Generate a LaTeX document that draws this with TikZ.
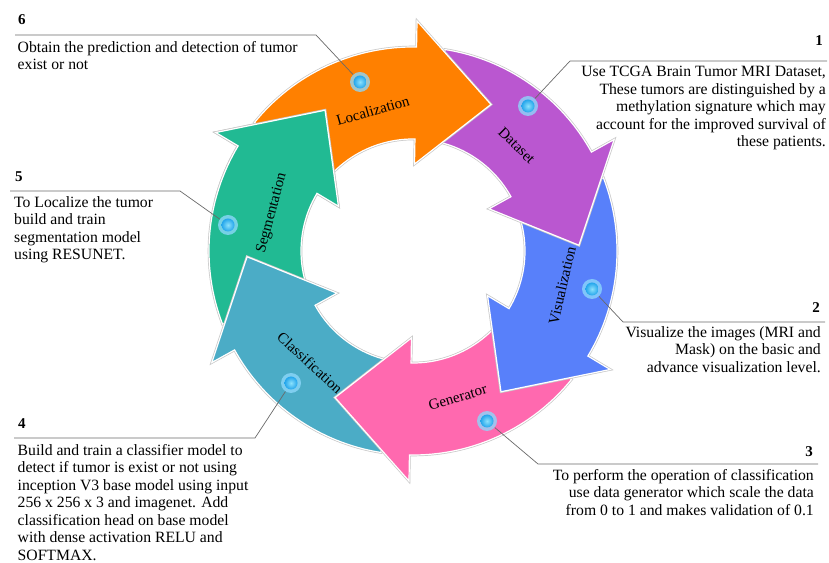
\documentclass[tikz,border=0pt]{standalone}
\usepackage{fontspec}
\setmainfont{Liberation Serif}
\definecolor{cOrange}{RGB}{255,128,0}
\definecolor{cPurple}{RGB}{186,87,208}
\definecolor{cBlue}{RGB}{88,128,250}
\definecolor{cPink}{RGB}{255,105,175}
\definecolor{cTeal}{RGB}{75,172,198}
\definecolor{cGreen}{RGB}{33,186,147}
\definecolor{haloBlue}{RGB}{140,215,250}
\definecolor{dotIn}{RGB}{140,225,252}
\definecolor{dotOut}{RGB}{35,165,235}
\definecolor{leader}{RGB}{105,105,105}

% one curved step arrow of the cycle; #1 = angle of the head base, #2 = colour
\newcommand\cyclearrow[2]{%
  \path[arrowrim] (#1+52:204) arc[start angle=#1+52, end angle=#1, radius=204]
    -- (#1:230) -- (#1-27:166) -- (#1:87) -- (#1:112)
    arc[start angle=#1, end angle=#1+52, radius=112] -- cycle;
  \path[arrowbody=#2] (#1+52:204) arc[start angle=#1+52, end angle=#1, radius=204]
    -- (#1:230) -- (#1-27:166) -- (#1:87) -- (#1:112)
    arc[start angle=#1, end angle=#1+52, radius=112] -- cycle;
}

\begin{document}
\begin{tikzpicture}[x=1pt,y=1pt,
  arrowrim/.style={draw=black!22, line width=2.6pt, line join=miter},
  arrowbody/.style={fill=#1, draw=white, line width=1.2pt, line join=miter},
  steplabel/.style={font=\fontsize{15}{17}\selectfont, inner sep=0pt},
  desc/.style={font=\fontsize{15.7}{17.5}\selectfont, inner sep=0pt},
  num/.style={font=\fontsize{15}{17}\selectfont\bfseries, inner sep=0pt},
  halo/.style={circle, minimum size=20pt, inner sep=0pt, fill=haloBlue, fill opacity=0.8},
  leaderline/.style={draw=leader, line width=0.7pt},
]
\useasboundingbox (0,0) rectangle (829,562);

% ring of six arrows, drawn so each head lies over the next tail
\begin{scope}[shift={(413,311)}]
  \cyclearrow{149}{cGreen}
  \cyclearrow{-151}{cTeal}
  \cyclearrow{-91}{cPink}
  \cyclearrow{-31}{cBlue}
  \cyclearrow{29}{cPurple}
  \cyclearrow{89}{cOrange}
  % green head goes back on top of the orange tail
  \begin{scope}
    \clip (0,0) -- (108:270) arc[start angle=108, end angle=166, radius=270] -- cycle;
    \cyclearrow{149}{cGreen}
  \end{scope}

  \node[steplabel, rotate=16]    (lLoc)  at (106:146)    {Localization};
  \node[steplabel, rotate=-44.5] (lData) at (45.5:148)   {Dataset};
  \node[steplabel, rotate=77]    (lVis)  at (-13:153)    {Visualization};
  \node[steplabel, rotate=17]    (lGen)  at (-73:153)    {Generator};
  \node[steplabel, rotate=-42.6] (lCls)  at (-132.6:152) {Classification};
  \node[steplabel, rotate=75]    (lSeg)  at (165:146)    {Segmentation};
\end{scope}

% marker positions
\node[halo] (d6) at (360,480) {};
\node[halo] (d1) at (528,456) {};
\node[halo] (d2) at (592,273) {};
\node[halo] (d3) at (487,141) {};
\node[halo] (d4) at (291,179) {};
\node[halo] (d5) at (228,337) {};

% leader lines
\coordinate (k6) at (316,527); \coordinate (e6) at (15,527);
\coordinate (k5) at (180,371); \coordinate (e5) at (10,371);
\coordinate (k4) at (255,124); \coordinate (e4) at (14,124);
\coordinate (k1) at (570,501); \coordinate (e1) at (827,501);
\coordinate (k2) at (623,240); \coordinate (e2) at (825,240);
\coordinate (k3) at (538,98);  \coordinate (e3) at (818,98);
\foreach \i in {1,...,6}{
  \path[leaderline] (d\i) -- (k\i) -- (e\i);
}

% marker cores
\foreach \i in {1,...,6}{
  \shade[inner color=dotIn, outer color=dotOut] (d\i.center) circle (6.5);
}

% numbers
\node[num, anchor=base west] (n6) at (18,537) {6};
\node[num, anchor=base west] (n5) at (15,380) {5};
\node[num, anchor=base west] (n4) at (18,133) {4};
\node[num, anchor=base east] (n1) at (823,516) {1};
\node[num, anchor=base east] (n2) at (820,249) {2};
\node[num, anchor=base east] (n3) at (813,105) {3};

% descriptions
\node[desc, anchor=north west, align=left] (t6) at (17.5,521)
  {Obtain the prediction and detection of tumor\\exist or not};
\node[desc, anchor=north west, align=left] (t5) at (14,366)
  {To Localize the tumor\\build and train\\segmentation model\\using RESUNET.};
\node[desc, anchor=north west, align=left] (t4) at (17.5,118)
  {Build and train a classifier model to\\detect if tumor is exist or not using\\inception V3 base model using input\\256 x 256 x 3 and imagenet. Add\\classification head on base model\\with dense activation RELU and\\SOFTMAX.};
\node[desc, anchor=north east, align=right] (t1) at (826,496)
  {Use TCGA Brain Tumor MRI Dataset,\\These tumors are distinguished by a\\methylation signature which may\\account for the improved survival of\\these patients.};
\node[desc, anchor=north east, align=right] (t2) at (821,236)
  {Visualize the images (MRI and\\Mask) on the basic and\\advance visualization level.};
\node[desc, anchor=north east, align=right] (t3) at (814,93)
  {To perform the operation of classification\\use data generator which scale the data\\from 0 to 1 and makes validation of 0.1};
\end{tikzpicture}
\end{document}
